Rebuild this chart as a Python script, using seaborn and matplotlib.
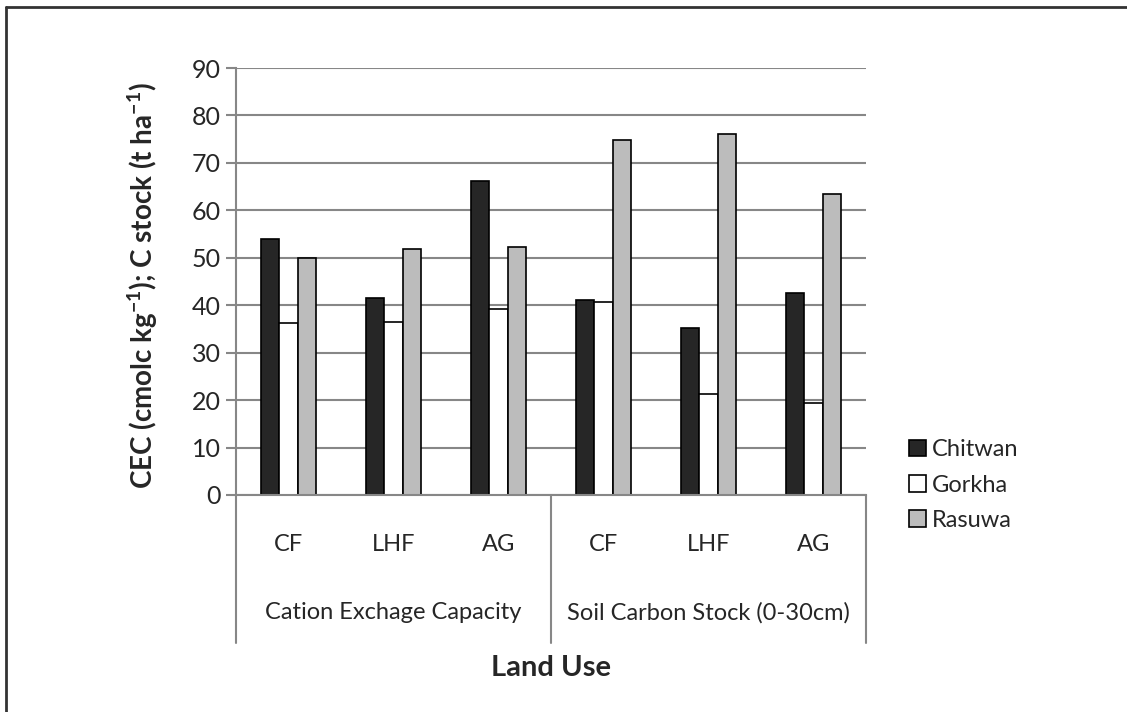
import matplotlib
matplotlib.use("Agg")
import matplotlib.pyplot as plt
from matplotlib.lines import Line2D
import seaborn as sns
import pandas as pd

# ---- data ----
categories = ["CF", "LHF", "AG", "CF", "LHF", "AG"]
groups = ["Cation Exchage Capacity", "Soil Carbon Stock (0-30cm)"]
sites = ["Chitwan", "Gorkha", "Rasuwa"]
chitwan = [54.0, 41.5, 66.2, 41.2, 35.3, 42.5]
gorkha = [36.3, 36.4, 39.2, 40.7, 21.3, 19.4]
rasuwa = [50.0, 51.9, 52.2, 74.9, 76.1, 63.4]
yticks = [0, 10, 20, 30, 40, 50, 60, 70, 80, 90]

keys = [f"{i}_{c}" for i, c in enumerate(categories)]
rows = []
for site, vals in zip(sites, [chitwan, gorkha, rasuwa]):
    for k, v in zip(keys, vals):
        rows.append({"cat": k, "site": site, "value": v})
df = pd.DataFrame(rows)

sns.set_theme(style="white")
FONT = "Lato"
plt.rcParams["font.family"] = [FONT, "DejaVu Sans"]
plt.rcParams["mathtext.fontset"] = "custom"
plt.rcParams["mathtext.rm"] = FONT
plt.rcParams["mathtext.bf"] = FONT + ":bold"

fig = plt.figure(figsize=(11.27, 7.12), dpi=100)
ax = fig.add_axes([236 / 1127, 1 - 495 / 712, 630 / 1127, 427 / 712])

grey = "#878787"
sns.barplot(data=df, x="cat", y="value", hue="site", order=keys, hue_order=sites,
            palette={"Chitwan": "#262626", "Gorkha": "#ffffff", "Rasuwa": "#bcbcbc"},
            width=0.52, edgecolor="black", linewidth=1.2, saturation=1, ax=ax)

ax.set_xlim(-0.5, 5.5)
ax.set_ylim(0, 90)
ax.set_yticks(yticks)
ax.set_yticklabels([str(t) for t in yticks], fontsize=18)
ax.yaxis.grid(True, color=grey, linewidth=1.5)
ax.set_axisbelow(True)
ax.tick_params(axis="y", left=True, length=7, width=1.5, color=grey, pad=4)
ax.set_xticks(range(6))
ax.set_xticklabels([])
ax.tick_params(axis="x", bottom=False, length=0)
for s in ["top", "right"]:
    ax.spines[s].set_visible(False)
for s in ["left", "bottom"]:
    ax.spines[s].set_color(grey)
    ax.spines[s].set_linewidth(1.5)
ax.set_xlabel("")
ax.set_ylabel(r"CEC (cmolc kg$^{\mathbf{-1}}$); C stock (t ha$^{\mathbf{-1}}$)",
              fontsize=20, fontweight="bold")
ax.yaxis.set_label_coords(-0.12, 0.49)

tr = ax.get_xaxis_transform()
for i, c in enumerate(categories):
    ax.text(i, -0.117, c, transform=tr, ha="center", va="center", fontsize=17)
for g, gx in zip(groups, [1, 4]):
    ax.text(gx, -0.276, g, transform=tr, ha="center", va="center", fontsize=17)
for xv in [-0.5, 2.5, 5.5]:
    ax.add_line(Line2D([xv, xv], [0, -0.347], transform=tr, color=grey, lw=1.5, clip_on=False))
ax.text(2.5, -0.405, "Land Use", transform=tr, ha="center", va="center",
        fontsize=21, fontweight="bold")

leg = ax.legend(loc="center left", bbox_to_anchor=(900 / 1127, 1 - 485 / 712),
                bbox_transform=fig.transFigure, frameon=False, fontsize=17,
                handlelength=0.7, handleheight=0.7, handletextpad=0.25,
                labelspacing=0.6, borderaxespad=0)
for h in leg.legend_handles:
    h.set_edgecolor("black")
    h.set_linewidth(1.2)

# figure frame (top and left edges)
fig.add_artist(Line2D([6 / 1127, 6 / 1127], [0, 1 - 7 / 712], transform=fig.transFigure,
                      color="#333333", lw=2))
fig.add_artist(Line2D([6 / 1127, 1], [1 - 7 / 712, 1 - 7 / 712], transform=fig.transFigure,
                      color="#333333", lw=2))

fig.savefig("out.png", dpi=100)
